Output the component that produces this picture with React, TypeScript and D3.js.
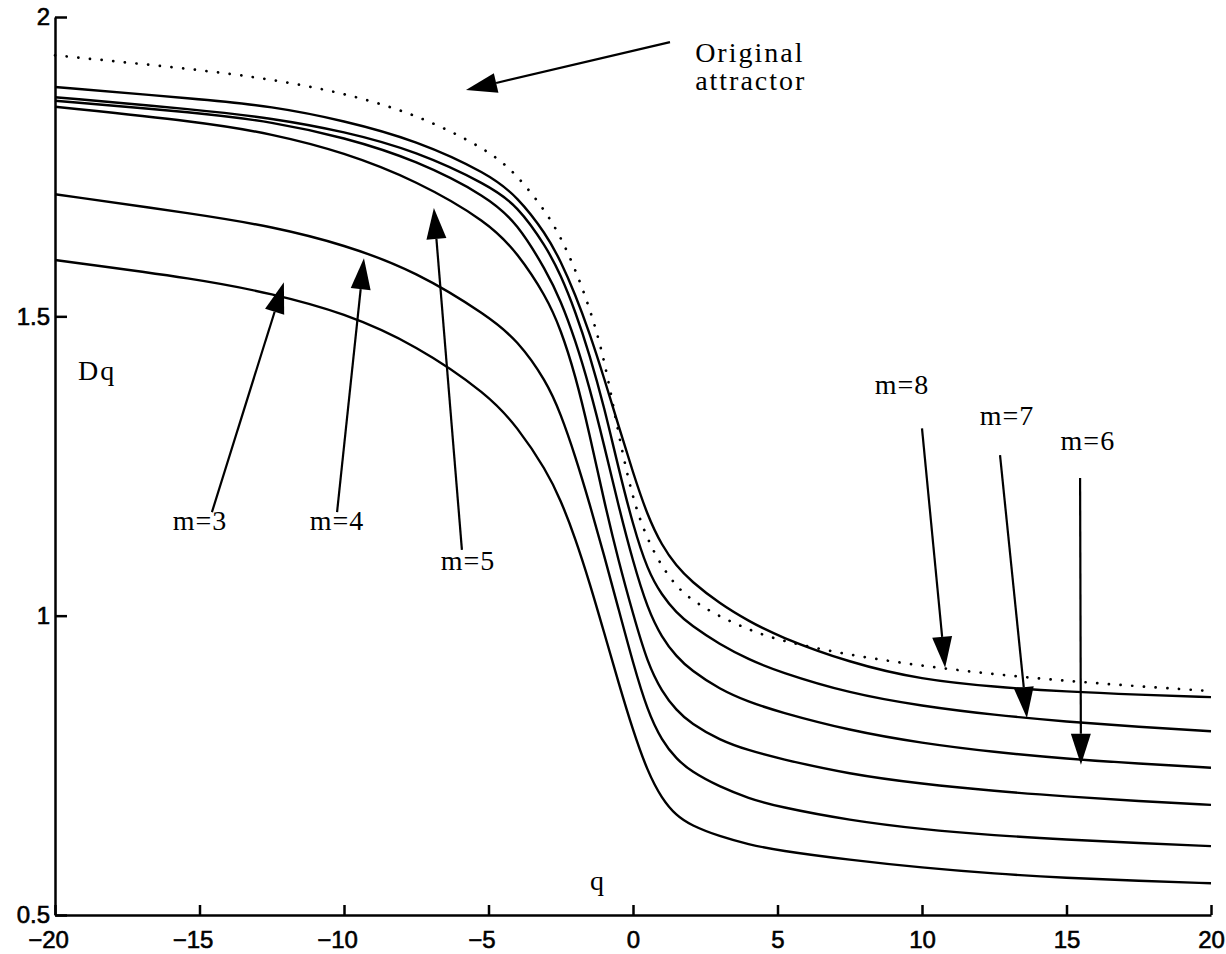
import React, { useEffect, useRef } from 'react';
import * as d3 from 'd3';

const qValues = [-20, -15, -12.5, -10, -7.5, -5, -4, -3, -2.5, -2, -1.5, -1, -0.5, 0, 0.5, 1, 1.5, 2, 3, 4, 5, 7.5, 10, 12.5, 15, 17.5, 20];

// dotted curve: original attractor
const dOriginal = [1.936, 1.912, 1.896, 1.873, 1.838, 1.778, 1.736, 1.674, 1.632, 1.579, 1.514, 1.432, 1.302, 1.192, 1.127, 1.082, 1.049, 1.027, 0.998, 0.977, 0.959, 0.934, 0.916, 0.902, 0.891, 0.882, 0.874];
const dM8 = [1.883, 1.863, 1.851, 1.827, 1.794, 1.738, 1.700, 1.637, 1.592, 1.537, 1.472, 1.397, 1.317, 1.239, 1.167, 1.117, 1.083, 1.058, 1.020, 0.991, 0.966, 0.921, 0.893, 0.881, 0.873, 0.868, 0.864];
const dM7 = [1.866, 1.845, 1.831, 1.809, 1.776, 1.719, 1.685, 1.616, 1.569, 1.509, 1.436, 1.349, 1.246, 1.151, 1.076, 1.034, 1.005, 0.984, 0.952, 0.927, 0.907, 0.870, 0.849, 0.834, 0.823, 0.814, 0.807];
const dM6 = [1.860, 1.840, 1.825, 1.799, 1.761, 1.699, 1.655, 1.576, 1.526, 1.461, 1.381, 1.285, 1.183, 1.090, 1.012, 0.963, 0.932, 0.909, 0.877, 0.856, 0.840, 0.808, 0.787, 0.772, 0.761, 0.753, 0.746];
const dM5 = [1.850, 1.825, 1.805, 1.774, 1.727, 1.657, 1.606, 1.533, 1.478, 1.403, 1.303, 1.191, 1.091, 1.003, 0.921, 0.873, 0.842, 0.820, 0.792, 0.775, 0.762, 0.735, 0.719, 0.707, 0.698, 0.690, 0.684];
const dM4 = [1.704, 1.670, 1.650, 1.620, 1.575, 1.500, 1.460, 1.392, 1.337, 1.267, 1.187, 1.101, 1.011, 0.921, 0.841, 0.791, 0.761, 0.740, 0.714, 0.695, 0.681, 0.658, 0.643, 0.633, 0.626, 0.620, 0.615];
const dM3 = [1.594, 1.562, 1.538, 1.506, 1.452, 1.369, 1.315, 1.243, 1.193, 1.130, 1.055, 0.972, 0.888, 0.808, 0.740, 0.694, 0.666, 0.650, 0.631, 0.618, 0.608, 0.592, 0.579, 0.569, 0.562, 0.557, 0.553];

const xTicks = [-20, -15, -10, -5, 0, 5, 10, 15, 20];
const yTicks = [0.5, 1, 1.5, 2];

// m= labels and their arrows, in data units
const arrowLabels = ['m=3', 'm=4', 'm=5', 'm=8', 'm=7', 'm=6'];
const labelQ = [-14.98, -10.24, -5.71, 9.31, 12.94, 15.74];
const labelD = [1.143, 1.143, 1.076, 1.370, 1.318, 1.277];
const arrowFromQ = [-14.57, -10.24, -5.92, 10.0, 12.70, 15.47];
const arrowFromD = [1.173, 1.173, 1.110, 1.313, 1.268, 1.230];
const arrowToQ = [-12.08, -9.31, -6.89, 10.80, 13.63, 15.50];
const arrowToD = [1.557, 1.597, 1.681, 0.913, 0.829, 0.751];

export default function App() {
    const ref = useRef<SVGSVGElement>(null);
    const width = 1226;
    const height = 954;
    const serif = '"Liberation Serif", "Times New Roman", serif';
    const sans = '"Liberation Sans", Arial, sans-serif';

    useEffect(() => {
        const svg = d3.select(ref.current);
        svg.selectAll('*').remove();

        const x = d3.scaleLinear().domain([-20, 20]).range([55, 1211]);
        const y = d3.scaleLinear().domain([0.5, 2]).range([915, 17]);

        const line = d3.line<number>()
            .x((_, i) => x(qValues[i]))
            .y(d => y(d))
            .curve(d3.curveBasis);

        // solid curves m=3..8
        [dM3, dM4, dM5, dM6, dM7, dM8].forEach(series => {
            svg.append('path')
                .attr('d', line(series))
                .attr('fill', 'none')
                .attr('stroke', '#000')
                .attr('stroke-width', 2.4);
        });

        // original attractor, dotted
        svg.append('path')
            .attr('d', line(dOriginal))
            .attr('fill', 'none')
            .attr('stroke', '#000')
            .attr('stroke-width', 2.7)
            .attr('stroke-linecap', 'round')
            .attr('stroke-dasharray', '0.1 11.6');

        // axes, ticks pointing inward
        const xAxis = svg.append('g')
            .attr('transform', `translate(0,${y(0.5)})`)
            .call(d3.axisBottom(x).tickValues(xTicks).tickSize(-10).tickSizeOuter(0).tickPadding(16));
        const yAxis = svg.append('g')
            .attr('transform', `translate(${x(-20)},0)`)
            .call(d3.axisLeft(y).tickValues(yTicks).tickSize(-12).tickSizeOuter(0).tickPadding(5)
                .tickFormat(d => String(d)));

        [xAxis, yAxis].forEach(g => {
            g.attr('font-family', sans).attr('font-size', 24);
            g.select('.domain').attr('stroke-width', 2.5);
            g.selectAll('.tick line').attr('stroke-width', 2.5);
            g.selectAll('.tick text')
                .attr('fill', '#000')
                .attr('stroke', '#000')
                .attr('stroke-width', 0.6);
        });
        xAxis.selectAll<SVGTextElement, number>('.tick text')
            .attr('dx', d => (d < 0 ? -7 : 0));

        // axis labels
        svg.append('text')
            .attr('x', x(-19.2))
            .attr('y', y(1.394))
            .style('font-family', serif)
            .style('font-size', '28px')
            .style('letter-spacing', '2px')
            .text('Dq');

        svg.append('text')
            .attr('x', x(-1.25))
            .attr('y', y(0.542))
            .attr('text-anchor', 'middle')
            .style('font-family', serif)
            .style('font-size', '28px')
            .text('q');

        function arrow(q0: number, d0: number, q1: number, d1: number) {
            const x0 = x(q0), y0 = y(d0), x1 = x(q1), y1 = y(d1);
            const len = Math.hypot(x1 - x0, y1 - y0);
            const ux = (x1 - x0) / len, uy = (y1 - y0) / len;
            const headLen = 31, headHalf = 10;
            const bx = x1 - ux * headLen, by = y1 - uy * headLen;
            svg.append('line')
                .attr('x1', x0).attr('y1', y0)
                .attr('x2', bx).attr('y2', by)
                .attr('stroke', '#000')
                .attr('stroke-width', 2.2);
            svg.append('path')
                .attr('d', `M${x1},${y1}L${bx - uy * headHalf},${by + ux * headHalf}L${bx + uy * headHalf},${by - ux * headHalf}Z`)
                .attr('fill', '#000');
        }

        // "Original attractor"
        arrow(1.28, 1.958, -5.78, 1.878);
        const orig = svg.append('text')
            .style('font-family', serif)
            .style('font-size', '28px')
            .style('letter-spacing', '2px');
        orig.append('tspan').attr('x', x(2.15)).attr('y', y(1.925)).text('Original');
        orig.append('tspan').attr('x', x(2.15)).attr('y', y(1.878)).text('attractor');

        arrowLabels.forEach((label, i) => {
            arrow(arrowFromQ[i], arrowFromD[i], arrowToQ[i], arrowToD[i]);
            svg.append('text')
                .attr('x', x(labelQ[i]))
                .attr('y', y(labelD[i]))
                .attr('text-anchor', 'middle')
                .style('font-family', serif)
                .style('font-size', '28px')
                .style('letter-spacing', '1px')
                .text(label);
        });
    }, []);

    return (
        <svg
            ref={ref}
            width={width}
            height={height}
            style={{ position: 'absolute', left: 0, top: 0, background: '#fff' }}
        ></svg>
    );
}
